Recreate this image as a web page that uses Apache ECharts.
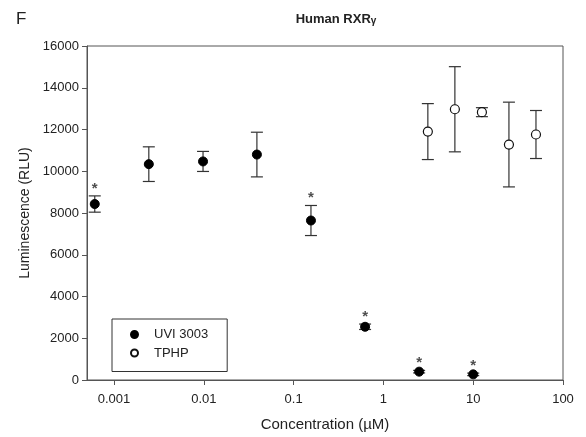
<!DOCTYPE html>
<html>
<head>
<meta charset="utf-8">
<script src="https://cdn.jsdelivr.net/npm/echarts@6/dist/echarts.min.js"></script>
<style>
html, body { margin: 0; padding: 0; background: #fff; }
#chart { width: 586px; height: 437px; }
</style>
</head>
<body>
<div id="chart"></div>
<script>
// 数据（浓度 µM，均值与标准差 RLU）
const uviConc = [0.00061, 0.00244, 0.0098, 0.039, 0.156, 0.625, 2.5, 10]
const uviMean = [8430, 10340, 10470, 10800, 7640, 2550, 400, 270]
const uviSd = [390, 830, 480, 1070, 720, 130, 60, 60]
const uviStar = [true, false, false, false, true, true, true, true]
const tphpConc = [3.125, 6.25, 12.5, 25, 50]
const tphpMean = [11900, 12970, 12830, 11280, 11760]
const tphpSd = [1340, 2040, 215, 2030, 1150]
const xTicks = [0.001, 0.01, 0.1, 1, 10, 100]
const xTickLabels = ['0.001', '0.01', '0.1', '1', '10', '100']

const font = 'Liberation Sans, Arial, sans-serif'
const lg = v => Math.log10(v)

const uviPts = uviConc.map((c, i) => [lg(c), uviMean[i]])
const tphpPts = tphpConc.map((c, i) => [lg(c), tphpMean[i]])
const errData = uviConc.map((c, i) => [lg(c), uviMean[i] - uviSd[i], uviMean[i] + uviSd[i]])
  .concat(tphpConc.map((c, i) => [lg(c), tphpMean[i] - tphpSd[i], tphpMean[i] + tphpSd[i]]))
const starData = uviConc.map((c, i) => [lg(c), uviMean[i] + uviSd[i]]).filter((d, i) => uviStar[i])

const chart = echarts.init(document.getElementById('chart'))

chart.setOption({
  backgroundColor: '#fff',
  animation: false,
  textStyle: { fontFamily: font },
  title: {
    text: 'Human RXR{g|γ}',
    left: 331,
    textAlign: 'center',
    top: 8,
    textStyle: {
      fontSize: 13,
      fontWeight: 'bold',
      color: '#222',
      fontFamily: font,
      rich: { g: { fontSize: 10, fontWeight: 'bold', color: '#222', fontFamily: font, padding: [3, 0, 0, 0] } }
    }
  },
  graphic: [
    { type: 'text', left: 16, top: 11, style: { text: 'F', fontSize: 17, fill: '#222', fontFamily: font } }
  ],
  legend: {
    orient: 'vertical',
    left: 112,
    top: 319,
    data: ['UVI 3003', 'TPHP'],
    icon: 'circle',
    itemWidth: 29,
    itemHeight: 7,
    itemGap: 5.5,
    padding: [9, 19, 12, 18],
    borderColor: '#333',
    borderWidth: 1,
    textStyle: { fontSize: 13, color: '#222', fontFamily: font }
  },
  grid: {
    left: 87,
    right: 23,
    top: 46,
    bottom: 57,
    outerBoundsMode: 'none',
    containLabel: false,
    show: true,
    borderColor: '#555',
    borderWidth: 1
  },
  xAxis: {
    type: 'value',
    min: lg(0.0005),
    max: 2,
    name: 'Concentration (µM)',
    nameLocation: 'middle',
    nameGap: 37,
    nameTextStyle: { fontSize: 15, color: '#222', fontFamily: font },
    axisLine: { onZero: false, lineStyle: { color: '#555' } },
    axisTick: { inside: false, length: 5, customValues: xTicks.map(lg), lineStyle: { color: '#555' } },
    axisLabel: {
      customValues: xTicks.map(lg),
      fontSize: 13,
      color: '#222',
      margin: 13,
      formatter: v => xTickLabels[Math.round(v) + 3]
    },
    splitLine: { show: false }
  },
  yAxis: {
    type: 'value',
    min: 0,
    max: 16000,
    interval: 2000,
    name: 'Luminescence (RLU)',
    nameLocation: 'middle',
    nameGap: 51,
    nameTextStyle: { fontSize: 14, color: '#222', fontFamily: font },
    axisLine: { show: true, onZero: false, lineStyle: { color: '#555' } },
    axisTick: { show: true, length: 5, lineStyle: { color: '#555' } },
    axisLabel: { fontSize: 13, color: '#222', margin: 8, formatter: v => String(v) },
    splitLine: { show: false }
  },
  series: [
    {
      name: 'err',
      type: 'custom',
      data: errData,
      z: 1,
      renderItem: (params, api) => {
        const x = api.value(0)
        const lo = api.coord([x, api.value(1)])
        const hi = api.coord([x, api.value(2)])
        const w = 6
        const st = { stroke: '#333', lineWidth: 1.2 }
        return {
          type: 'group',
          children: [
            { type: 'line', shape: { x1: lo[0], y1: lo[1], x2: hi[0], y2: hi[1] }, style: st },
            { type: 'line', shape: { x1: lo[0] - w, y1: lo[1], x2: lo[0] + w, y2: lo[1] }, style: st },
            { type: 'line', shape: { x1: hi[0] - w, y1: hi[1], x2: hi[0] + w, y2: hi[1] }, style: st }
          ]
        }
      }
    },
    {
      name: 'UVI 3003',
      type: 'scatter',
      data: uviPts,
      symbol: 'circle',
      symbolSize: 9,
      z: 3,
      itemStyle: { color: '#000', borderColor: '#000', borderWidth: 1, opacity: 1 }
    },
    {
      name: 'TPHP',
      type: 'scatter',
      data: tphpPts,
      symbol: 'circle',
      symbolSize: 9,
      z: 3,
      itemStyle: { color: '#fff', borderColor: '#111', borderWidth: 1.2, opacity: 1 }
    },
    {
      name: 'sig',
      type: 'scatter',
      data: starData,
      symbolSize: 0,
      z: 4,
      label: {
        show: true,
        position: 'top',
        distance: 0,
        formatter: '*',
        fontSize: 15,
        fontWeight: 'bold',
        color: '#222',
        fontFamily: font
      }
    }
  ]
})
</script>
</body>
</html>
